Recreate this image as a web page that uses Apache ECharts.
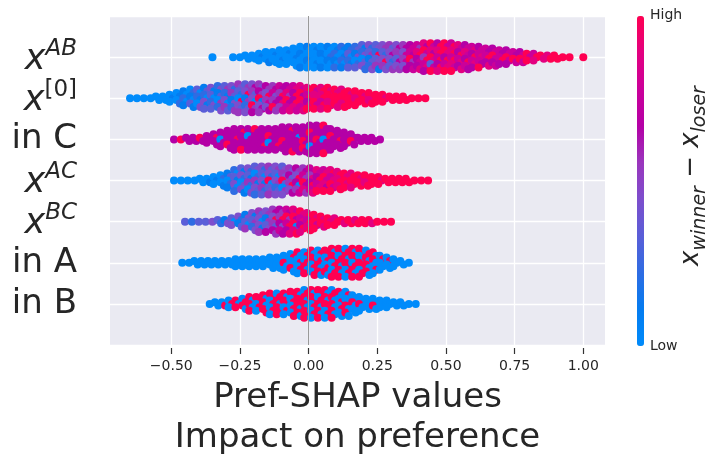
<!DOCTYPE html>
<html>
<head>
<meta charset="utf-8">
<script src="https://cdn.jsdelivr.net/npm/echarts@6/dist/echarts.min.js"></script>
<style>
  html, body { margin: 0; padding: 0; background: #fff; }
  #chart { width: 722px; height: 464px; }
</style>
</head>
<body>
<div id="chart"></div>
<script>
// features from top to bottom
var featureNames = ["x^AB", "x^[0]", "in C", "x^AC", "x^BC", "in A", "in B"];

// x ticks
var tickValues = [-0.5, -0.25, 0, 0.25, 0.5, 0.75, 1.0];

// swarm bins: every string is one bin of width binStep, one char per dot
// (top to bottom), the char is the feature value 0 (low) .. 9 (high)
var binStep = 0.025;
var rowStart = [-0.35, -0.65, -0.49, -0.49, -0.45, -0.46, -0.36];

var swarmAB = ["0", "", "", "0", "0", "00", "00", "010", "0001", "0100", "00010", "01000",
  "000100", "0010001", "1000100", "0100010", "0011001", "1002100", "0120102", "2101201",
  "1230213", "2314023", "31240342", "42351324", "34293451", "45324954", "53464235",
  "46553645", "56475746", "67769567", "75896768", "869759786", "978698379", "698979698",
  "979869789", "798979879", "87697868", "67876976", "7869786", "6778769", "767968",
  "679767", "76796", "67976", "7697", "6797", "979", "798", "98", "89", "99", "9", "9", "", "9"];

var swarmX0 = ["0", "0", "0", "0", "00", "00", "010", "0102", "10201", "021031", "302104",
  "1320413", "4130243", "24130524", "35214053", "42531425", "543209435", "354915234",
  "465340956", "546591465", "65495746", "56745695", "76596857", "67859678", "78696987",
  "87969878", "8979689", "9788979", "8989798", "9899889", "989998", "899989", "98999",
  "99899", "9899", "9989", "999", "989", "99", "99", "99", "9", "9", "9"];

var swarmInC = ["6", "9", "66", "66", "96", "666", "6966", "66066", "666696", "6669666",
  "6966669", "6606666", "9666666", "6666696", "6696066", "6666696", "66669666", "69666669",
  "66606666", "66669696", "669666066", "666696666", "966606669", "6696666", "666966",
  "66666", "6696", "66", "66", "66", "6"];

var swarmAC = ["0", "0", "0", "0", "00", "01", "010", "0201", "13021", "2031402", "31420341",
  "42315204", "340251432", "423041523", "534290345", "453045234", "345493054", "54635946",
  "65496057", "56759685", "76586978", "8769789", "7897869", "8978979", "898989", "98989",
  "89998", "9899", "9989", "999", "989", "99", "99", "99", "99", "9", "9", "9"];

var swarmBC = ["3", "2", "3", "3", "4", "32", "14", "304", "4213", "14305", "413524",
  "5340415", "4515346", "56495365", "65596476", "76957968", "87969089", "9878698",
  "897989", "98979", "9898", "989", "899", "98", "99", "89", "99", "98", "9", "9", "9"];

var swarmInA = ["0", "0", "00", "00", "00", "00", "00", "00", "000", "000", "000", "000",
  "000", "0000", "0000", "00900", "090090", "9009090", "0909909", "90990909", "09099090",
  "99090990", "909909099", "990990909", "099099090", "909909909", "990099099", "09909090",
  "9090090", "09000", "0900", "000", "00", "0"];

var swarmInB = ["0", "00", "09", "090", "909", "0990", "90909", "99090", "909099", "9909090",
  "0990999", "9099090", "99090909", "90999090", "099090999", "909909090", "990990909",
  "909099090", "099090909", "90090900", "09009090", "009000", "00900", "0000", "0090",
  "000", "000", "00", "00", "0", "0"];

var swarms = [swarmAB, swarmX0, swarmInC, swarmAC, swarmBC, swarmInA, swarmInB];

// shap red_blue colours for feature values 0..9
var valueColors = ["#008bfb", "#047cf0", "#2e6ce3", "#5a5ed8", "#7d4ecd", "#9a36bd",
  "#b400a6", "#cb009a", "#e30080", "#ff0052"];

var textColor = "#262626";
var font = "DejaVu Sans";
var stackGap = 0.085;   // vertical spacing of stacked dots, in row units

// lay the dots of each bin out as a small beeswarm column
function rowPoints(r) {
  var pts = [];
  swarms[r].forEach(function (col, i) {
    var x = rowStart[r] + i * binStep;
    var n = col.length;
    for (var j = 0; j < n; j++) {
      var shift = n > 1 ? ((j % 2) - 0.5) * binStep * 0.5 : 0;
      pts.push([x + shift, r + (j - (n - 1) / 2) * stackGap, +col[j]]);
    }
  });
  return pts;
}

function featureLabel(name) {
  var k = name.indexOf("^");
  if (k < 0) return "{t|" + name + "}";
  var sup = name.slice(k + 1);
  var style = /[A-Za-z]/.test(sup) ? "sup" : "supu";
  return "{x|" + name.slice(0, k) + "}{" + style + "|" + sup + "}";
}

var series = [{
  type: "line",
  data: [],
  z: 1,
  silent: true,
  showSymbol: false,
  markLine: {
    silent: true,
    symbol: "none",
    label: { show: false },
    lineStyle: { color: "#999999", width: 1, type: "solid" },
    data: [{ xAxis: 0 }]
  }
}];
featureNames.forEach(function (name, r) {
  series.push({
    name: name,
    type: "scatter",
    z: 3,
    symbolSize: 8,
    itemStyle: { opacity: 1 },
    data: rowPoints(r)
  });
});

var chart = echarts.init(document.getElementById("chart"));

var option = {
  animation: false,
  grid: {
    left: 110, right: 117, top: 16, bottom: 119,
    show: true, backgroundColor: "#eaeaf2", borderWidth: 0
  },
  xAxis: {
    type: "value",
    min: -0.723,
    max: 1.079,
    offset: 3,
    name: "Pref-SHAP values\nImpact on preference",
    nameLocation: "middle",
    nameGap: 27,
    nameTextStyle: { fontFamily: font, fontSize: 34, color: textColor, lineHeight: 40 },
    axisLine: { show: false, onZero: false },
    axisTick: { show: true, length: 6, lineStyle: { color: "#333", width: 1.2 }, customValues: tickValues },
    axisLabel: {
      customValues: tickValues,
      margin: 11,
      fontFamily: font, fontSize: 14, color: textColor,
      formatter: function (v) { return (v < 0 ? "\u2212" : "") + Math.abs(v).toFixed(2); }
    },
    splitLine: { show: true, lineStyle: { color: "#ffffff", width: 1.3 } }
  },
  yAxis: {
    type: "value",
    min: -1,
    max: 7,
    interval: 1,
    inverse: true,
    axisLine: { show: false, onZero: false },
    axisTick: { show: false },
    axisLabel: {
      margin: 33,
      formatter: function (v) { return featureNames[v] ? featureLabel(featureNames[v]) : ""; },
      rich: {
        t: { fontFamily: font, fontSize: 34, color: textColor },
        x: { fontFamily: font, fontSize: 35, fontStyle: "italic", color: textColor, verticalAlign: "bottom" },
        sup: { fontFamily: font, fontSize: 23, fontStyle: "italic", color: textColor, verticalAlign: "bottom", padding: [0, 0, 17, 0] },
        supu: { fontFamily: font, fontSize: 23, color: textColor, verticalAlign: "bottom", padding: [0, 0, 17, 0] }
      }
    },
    splitLine: { show: true, lineStyle: { color: "#ffffff", width: 1.3 } }
  },
  visualMap: {
    type: "continuous",
    min: 0,
    max: 9,
    dimension: 2,
    seriesIndex: [1, 2, 3, 4, 5, 6, 7],
    calculable: false,
    orient: "vertical",
    left: 637,
    top: 16,
    padding: 0,
    itemWidth: 7,
    itemHeight: 330,
    inRange: { color: valueColors }
  },
  graphic: [
    { type: "text", left: 650, top: 8, style: { text: "High", fontFamily: font, fontSize: 14, fill: textColor } },
    { type: "text", left: 650, top: 339, style: { text: "Low", fontFamily: font, fontSize: 14, fill: textColor } },
    {
      type: "text",
      x: 694,
      y: 176,
      rotation: Math.PI / 2,
      style: {
        text: "{x|x}{sub|winner}{m| \u2212 }{x|x}{sub|loser}",
        align: "center",
        verticalAlign: "middle",
        rich: {
          x: { fontFamily: font, fontSize: 26, fontStyle: "italic", fill: textColor, verticalAlign: "bottom", padding: [0, 0, 6, 0] },
          sub: { fontFamily: font, fontSize: 19, fontStyle: "italic", fill: textColor, verticalAlign: "bottom" },
          m: { fontFamily: font, fontSize: 26, fill: textColor, verticalAlign: "bottom", padding: [0, 0, 6, 0] }
        }
      }
    }
  ],
  series: series
};

chart.setOption(option);
</script>
</body>
</html>
